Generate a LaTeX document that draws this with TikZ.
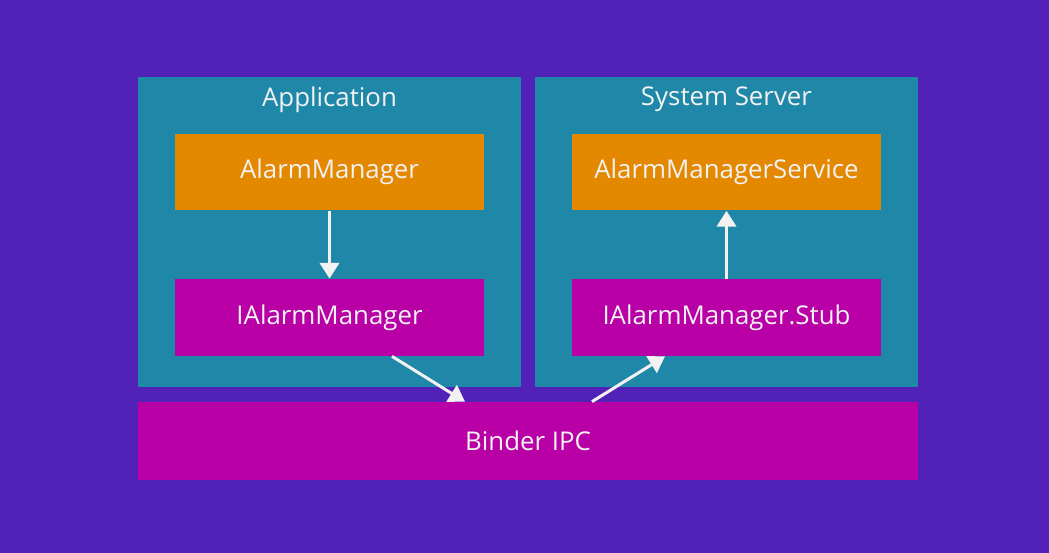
\documentclass[tikz,border=0pt]{standalone}
\usepackage{fontspec}
\setmainfont{Open Sans}
\usetikzlibrary{arrows.meta}
\definecolor{bgpurple}{HTML}{5222B8}
\definecolor{panelteal}{HTML}{1F87A7}
\definecolor{boxorange}{HTML}{E48800}
\definecolor{boxmagenta}{HTML}{B800A6}
\definecolor{textwhite}{HTML}{F2F2F2}
\tikzset{
  panel/.style={fill=panelteal, minimum width=7.66cm, minimum height=6.2cm, inner sep=0pt},
  compbox/.style={minimum width=6.18cm, minimum height=1.54cm, inner sep=0pt,
    text=textwhite, font=\fontsize{14.7}{17}\selectfont},
  title/.style={text=textwhite, font=\fontsize{14.7}{17}\selectfont},
  flow/.style={draw=textwhite, line width=1.7pt, -{Triangle[width=11pt,length=9pt]}}
}
\begin{document}
\begin{tikzpicture}[x=0.02cm, y=-0.02cm]
  % background
  \fill[bgpurple] (0,0) rectangle (1049,553);
  \useasboundingbox (0,0) rectangle (1049,553);

  % the two processes
  \node[panel] (app) at (329.5,232) {};
  \node[panel] (sys) at (726.5,232) {};
  \node[title, below=0.08cm] (apptitle) at (app.north) {Application};
  \node[title, below=0.08cm] (systitle) at (sys.north) {System Server};

  \node[compbox, fill=boxorange] (am) at (329.5,172) {AlarmManager};
  \node[compbox, fill=boxmagenta] (iam) at (329.5,317.5) {IAlarmManager};
  \node[compbox, fill=boxorange] (ams) at (726.5,172) {AlarmManagerService};
  \node[compbox, fill=boxmagenta] (stub) at (726.5,317.5) {IAlarmManager.Stub};

  % kernel driver
  \node[compbox, fill=boxmagenta, minimum width=15.6cm, minimum height=1.56cm] (binder) at (528,441) {Binder IPC};

  \draw[flow] (am) -- (iam);
  \draw[flow] ([xshift=1.25cm]iam.south) -- ([xshift=-1.26cm]binder.north);
  \draw[flow] ([xshift=1.28cm]binder.north) -- ([xshift=-1.23cm]stub.south);
  \draw[flow] (stub) -- (ams);
\end{tikzpicture}
\end{document}
